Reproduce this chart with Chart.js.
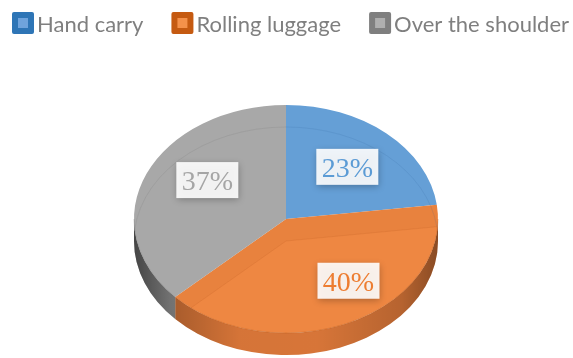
<!DOCTYPE html>
<html>
<head>
<meta charset="utf-8">
<script src="https://cdn.jsdelivr.net/npm/chart.js@4.4.0/dist/chart.umd.min.js"></script>
<style>
  html, body { margin: 0; padding: 0; background: #fff; }
  #wrap { width: 573px; height: 358px; }
</style>
</head>
<body>
<div id="wrap"><canvas id="chart" width="573" height="358"></canvas></div>
<script>
// luggage type shares
const categories = ['Hand carry', 'Rolling luggage', 'Over the shoulder'];
const shares = [23, 40, 37];
const valueLabels = ['23%', '40%', '37%'];

// slice look
const faceColors = ['rgb(101,159,214)', 'rgb(238,135,66)', 'rgb(168,168,168)'];
const sideColors = ['rgb(86,140,192)', 'rgb(222,121,58)', 'rgb(152,152,152)'];
const wallColors = ['rgb(50,100,160)', 'rgb(170,80,20)', 'rgb(110,110,110)'];
const textColors = ['#5B9BD5', '#ED7D31', '#A5A5A5'];
const legendOuter = ['#2E75B6', '#C55A11', '#7F7F7F'];
const legendInner = ['#6FA3DC', '#F4914A', '#AFAFAF'];

// label placement along each slice: angle tweak (deg) and radius fraction
const labelPlace = [
  { shift: 0, r: 0.61 },
  { shift: -12, r: 0.68 },
  { shift: 10, r: 0.62 }
];

const TILT = 0.75;     // vertical squash of the pie
const DEPTH = 22;      // thickness in px
const CENTER_Y = 219;  // where the top face sits on screen

function arcPath(ctx, x, y, r, a, b, dy) {
  ctx.beginPath();
  ctx.arc(x, y, r, a, b);
  ctx.arc(x, y + dy, r, b, a, true);
  ctx.closePath();
}

// clamp an angle range to the front (lower) half of the pie
function frontPart(a, b) {
  const s = Math.max(a, 0), e = Math.min(b, Math.PI);
  return s < e ? [s, e] : null;
}

const pie3d = {
  id: 'pie3d',
  beforeDatasetsDraw(chart) {
    const ctx = chart.ctx;
    const arcs = chart.getDatasetMeta(0).data;
    if (!arcs.length) return;
    const { x, y, outerRadius: R } = arcs[0];
    const d = DEPTH / TILT;

    ctx.save();
    ctx.translate(0, CENTER_Y);
    ctx.scale(1, TILT);
    ctx.translate(0, -y);

    // front side walls
    arcs.forEach((arc, i) => {
      const part = frontPart(arc.startAngle, arc.endAngle);
      if (!part) return;
      arcPath(ctx, x, y, R, part[0], part[1], d);
      ctx.fillStyle = sideColors[i];
      ctx.fill();
      const g = ctx.createLinearGradient(x - R, 0, x + R, 0);
      g.addColorStop(0, 'rgba(0,0,0,0.55)');
      g.addColorStop(0.12, 'rgba(0,0,0,0.25)');
      g.addColorStop(0.35, 'rgba(0,0,0,0.04)');
      g.addColorStop(0.6, 'rgba(0,0,0,0.03)');
      g.addColorStop(0.88, 'rgba(0,0,0,0.18)');
      g.addColorStop(1, 'rgba(0,0,0,0.38)');
      ctx.fillStyle = g;
      ctx.fill();
    });
  },
  afterDatasetsDraw(chart) {
    const ctx = chart.ctx;
    const arcs = chart.getDatasetMeta(0).data;
    if (!arcs.length) return;
    const { x, y, outerRadius: R } = arcs[0];
    const d = DEPTH / TILT;

    // inner walls and back rim seen faintly through the top face
    ctx.save();
    ctx.beginPath();
    ctx.arc(x, y, R, 0, Math.PI * 2);
    ctx.clip();
    arcs.forEach((arc, i) => {
      [[arc.startAngle, Math.cos(arc.startAngle) > 0.01],
       [arc.endAngle, Math.cos(arc.endAngle) < -0.01]].forEach(([t, show]) => {
        if (!show) return;
        ctx.beginPath();
        ctx.moveTo(x, y);
        ctx.lineTo(x + R * Math.cos(t), y + R * Math.sin(t));
        ctx.lineTo(x + R * Math.cos(t), y + R * Math.sin(t) + d);
        ctx.lineTo(x, y + d);
        ctx.closePath();
        ctx.fillStyle = wallColors[i];
        ctx.globalAlpha = 0.08;
        ctx.fill();
        ctx.globalAlpha = 0.15;
        ctx.strokeStyle = wallColors[i];
        ctx.lineWidth = 1;
        ctx.beginPath();
        ctx.moveTo(x, y + d);
        ctx.lineTo(x + R * Math.cos(t), y + R * Math.sin(t) + d);
        ctx.stroke();
      });
      // bottom edge of the back wall
      const s = Math.max(arc.startAngle, Math.PI), e = Math.min(arc.endAngle, Math.PI * 2);
      const s2 = Math.max(arc.startAngle, -Math.PI / 2), e2 = Math.min(arc.endAngle, 0);
      ctx.globalAlpha = 0.18;
      ctx.strokeStyle = wallColors[i];
      ctx.lineWidth = 1;
      [[s, e], [s2, e2]].forEach(([a, b]) => {
        if (a >= b) return;
        ctx.beginPath();
        ctx.arc(x, y + d, R, a, b);
        ctx.stroke();
      });
    });
    ctx.restore();

    // thin rim line between top face and side
    arcs.forEach((arc, i) => {
      const part = frontPart(arc.startAngle, arc.endAngle);
      if (!part) return;
      ctx.beginPath();
      ctx.arc(x, y, R, part[0], part[1]);
      ctx.globalAlpha = 0.35;
      ctx.strokeStyle = wallColors[i];
      ctx.lineWidth = 1;
      ctx.stroke();
    });
    ctx.globalAlpha = 1;
    ctx.restore();

    // value labels
    arcs.forEach((arc, i) => {
      const mid = (arc.startAngle + arc.endAngle) / 2 + labelPlace[i].shift * Math.PI / 180;
      const r = labelPlace[i].r * R;
      const px = x + r * Math.cos(mid);
      const py = CENTER_Y + r * TILT * Math.sin(mid);
      const w = 62, h = 36;
      ctx.save();
      ctx.shadowColor = 'rgba(0,0,0,0.3)';
      ctx.shadowBlur = 7;
      ctx.shadowOffsetX = 1;
      ctx.shadowOffsetY = 2;
      ctx.fillStyle = 'rgba(255,255,255,0.9)';
      ctx.fillRect(px - w / 2, py - h / 2, w, h);
      ctx.restore();
      ctx.font = '28px "Liberation Serif", "DejaVu Serif", serif';
      ctx.fillStyle = textColors[i];
      ctx.textAlign = 'center';
      ctx.textBaseline = 'alphabetic';
      ctx.fillText(valueLabels[i], px, py + 10);
    });
  },
  afterDraw(chart) {
    // legend row
    const ctx = chart.ctx;
    ctx.save();
    ctx.font = '22px Lato, "Open Sans", sans-serif';
    ctx.textBaseline = 'alphabetic';
    ctx.textAlign = 'left';
    const box = 22, gapText = 3, gapItem = 28;
    let cx = 12;
    categories.forEach((c, i) => {
      ctx.fillStyle = legendOuter[i];
      ctx.beginPath();
      ctx.roundRect(cx, 12, box, box, 2);
      ctx.fill();
      ctx.fillStyle = legendInner[i];
      ctx.fillRect(cx + 6, 18, box - 12, box - 12);
      ctx.fillStyle = '#7F7F7F';
      ctx.fillText(c, cx + box + gapText, 32);
      cx += box + gapText + ctx.measureText(c).width + gapItem;
    });
    ctx.restore();
  }
};

new Chart(document.getElementById('chart'), {
  type: 'pie',
  data: {
    labels: categories,
    datasets: [{
      data: shares,
      backgroundColor: faceColors,
      borderWidth: 0,
      hoverOffset: 0,
      clip: false
    }]
  },
  options: {
    responsive: false,
    devicePixelRatio: 1,
    animation: false,
    events: [],
    layout: { padding: { left: 134, right: 135, top: 27, bottom: 27 } },
    plugins: {
      legend: { display: false },
      tooltip: { enabled: false }
    }
  },
  plugins: [pie3d]
});
</script>
</body>
</html>
